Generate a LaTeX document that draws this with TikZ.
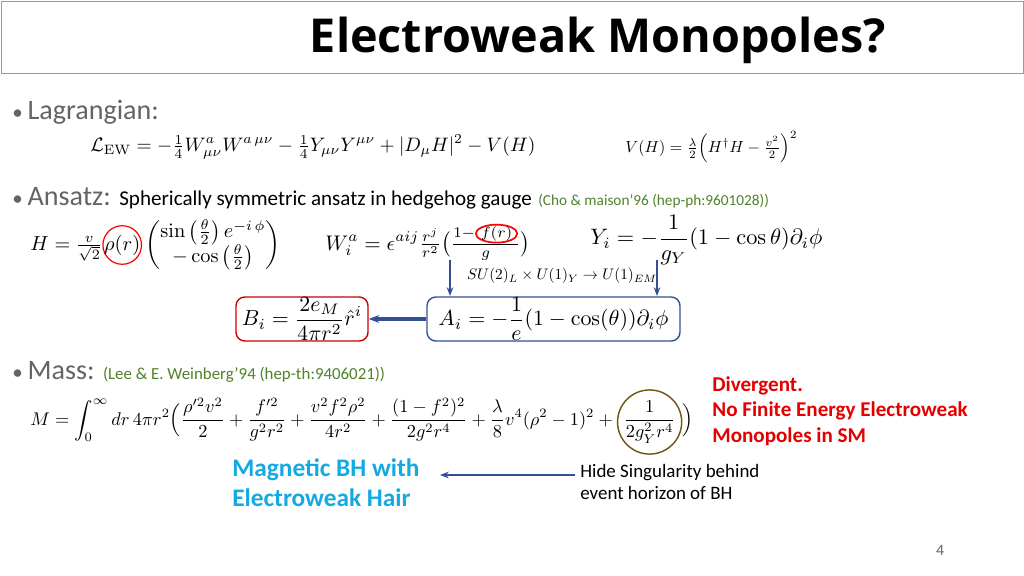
\documentclass[tikz,border=0pt]{standalone}
\usepackage{amsmath}
\usepackage[no-math]{fontspec}
\setmainfont{Carlito}
\newfontfamily\titlef{Open Sans}
\usetikzlibrary{arrows.meta,shapes.geometric}
\definecolor{tgreen}{RGB}{120,190,60}
\definecolor{refgreen}{RGB}{80,130,40}
\definecolor{bulgray}{RGB}{100,100,100}
\definecolor{arblue}{RGB}{50,80,150}
\definecolor{cyanb}{RGB}{20,170,225}
\definecolor{olive}{RGB}{110,90,20}
\newcommand{\eqw}[2]{\resizebox{#1}{!}{$\displaystyle #2$}}
\newcommand{\ringed}[4]{\tikz[baseline=(rg.base)]\node[#4,draw=#1,line width=#2,inner sep=-0.5pt,x=1cm,y=1cm] (rg) {$\displaystyle #3$};}
\begin{document}
\begin{tikzpicture}[x=0.02cm,y=-0.02cm,
  bul/.style={anchor=west,inner sep=0,text=bulgray,font=\fontsize{16}{19}\selectfont},
  eq/.style={anchor=west,inner sep=0},
  arr/.style={draw=arblue,line width=1.2pt,-{Stealth[length=5pt]}}]
\useasboundingbox (0,0) rectangle (1024,575);
\node[draw=tgreen,line width=0.5pt,minimum width=1022*0.02cm,minimum height=72*0.02cm,anchor=north west,inner sep=0] (tb) at (1,1) {};
\node[inner sep=0,font=\titlef\bfseries\fontsize{26.6}{32}\selectfont] (title) at (598,40) {Electroweak Monopoles?};
\node[bul] (b1) at (12,112) {{\fontsize{12}{12}\selectfont\textbullet}\,Lagrangian:};
\node[eq] (L) at (90,147) {\eqw{445\dimexpr0.02cm}{\mathcal{L}_{\rm EW}=-\tfrac14 W^a_{\mu\nu}W^{a\,\mu\nu}-\tfrac14 Y_{\mu\nu}Y^{\mu\nu}+|D_\mu H|^2-V(H)}};
\node[eq] (V) at (625,147) {\eqw{172\dimexpr0.02cm}{V(H)=\tfrac{\lambda}{2}\Big(H^\dagger H-\tfrac{v^2}{2}\Big)^2}};
\node[bul] (b2) at (12,198) {{\fontsize{12}{12}\selectfont\textbullet}\,Ansatz: {\color{black}\fontsize{12}{14}\selectfont Spherically symmetric ansatz in hedgehog gauge} {\color{refgreen}\fontsize{8.7}{10}\selectfont (Cho \& maison'96 (hep-ph:9601028))}};
\node[eq] (H) at (30,245) {\eqw{250\dimexpr0.02cm}{H=\tfrac{v}{\sqrt2}\ringed{red}{0.6pt}{\rho(r)}{circle}\begin{pmatrix}\sin\big(\frac{\theta}{2}\big)\,e^{-i\,\phi}\\ -\cos\big(\frac{\theta}{2}\big)\end{pmatrix}}};
\node[eq] (W) at (325,242) {\eqw{205\dimexpr0.02cm}{W^a_i=\epsilon^{aij}\tfrac{r^j}{r^2}\big(\tfrac{1-\ringed{red}{0.8pt}{\scriptstyle f(r)}{ellipse}}{g}\big)}};
\node[eq] (Y) at (590,240) {\eqw{232\dimexpr0.02cm}{Y_i=-\frac{1}{g_Y}(1-\cos\theta)\partial_i\phi}};
\coordinate (w1) at (450,260); \coordinate (w2) at (450,296);
\coordinate (y1) at (657,260); \coordinate (y2) at (657,296);
\draw[arr] (w1) -- (w2);
\draw[arr] (y1) -- (y2);
\node[inner sep=0] (su) at (562,276) {\eqw{190\dimexpr0.02cm}{SU(2)_L\times U(1)_Y\rightarrow U(1)_{EM}}};
\node[draw=arblue,rounded corners=5pt,line width=0.8pt,minimum width=253*0.02cm,minimum height=44*0.02cm,inner sep=0] (A) at (553.5,319) {\eqw{230\dimexpr0.02cm}{A_i=-\frac1e(1-\cos(\theta))\partial_i\phi}};
\node[draw=red!80!black,rounded corners=5pt,line width=0.8pt,minimum width=132*0.02cm,minimum height=44*0.02cm,inner sep=0] (B) at (302,319) {\eqw{120\dimexpr0.02cm}{B_i=\frac{2e_M}{4\pi r^2}\hat r^i}};
\draw[draw=arblue,line width=2pt,-{Stealth[length=6pt]}] (A.west) -- (B.east);
\node[bul] (b3) at (12,372) {{\fontsize{12}{12}\selectfont\textbullet}\,Mass: {\color{refgreen}\fontsize{9.6}{11}\selectfont (Lee \& E. Weinberg'94 (hep-th:9406021))}};
\node[eq] (M) at (30,422) {\eqw{663\dimexpr0.02cm}{M=\int_0^\infty dr\,4\pi r^2\Big(\frac{\rho'^2v^2}{2}+\frac{f'^2}{g^2r^2}+\frac{v^2f^2\rho^2}{4r^2}+\frac{(1-f^2)^2}{2g^2r^4}+\frac{\lambda}{8}v^4(\rho^2-1)^2+\ringed{olive}{0.8pt}{\frac{1}{2g_Y^2r^4}}{circle}\Big)}};
\node[anchor=west,inner sep=0,align=left,text=red!90!black,font=\bfseries\fontsize{12}{14.5}\selectfont] (div) at (712,411) {Divergent.\\No Finite Energy Electroweak\\Monopoles in SM};
\node[anchor=west,inner sep=0,align=left,text=cyanb,font=\bfseries\fontsize{14.4}{17}\selectfont] (mbh) at (232,483) {Magnetic BH with\\Electroweak Hair};
\node[anchor=west,inner sep=0,align=left,font=\fontsize{10.8}{13}\selectfont] (hide) at (580,482) {Hide Singularity behind\\event horizon of BH};
\coordinate (h1) at (575,475); \coordinate (h2) at (440,475);
\draw[arr] (h1) -- (h2);
\node[inner sep=0,text=bulgray,font=\fontsize{9}{11}\selectfont] (pn) at (940,550) {4};
\end{tikzpicture}
\end{document}
